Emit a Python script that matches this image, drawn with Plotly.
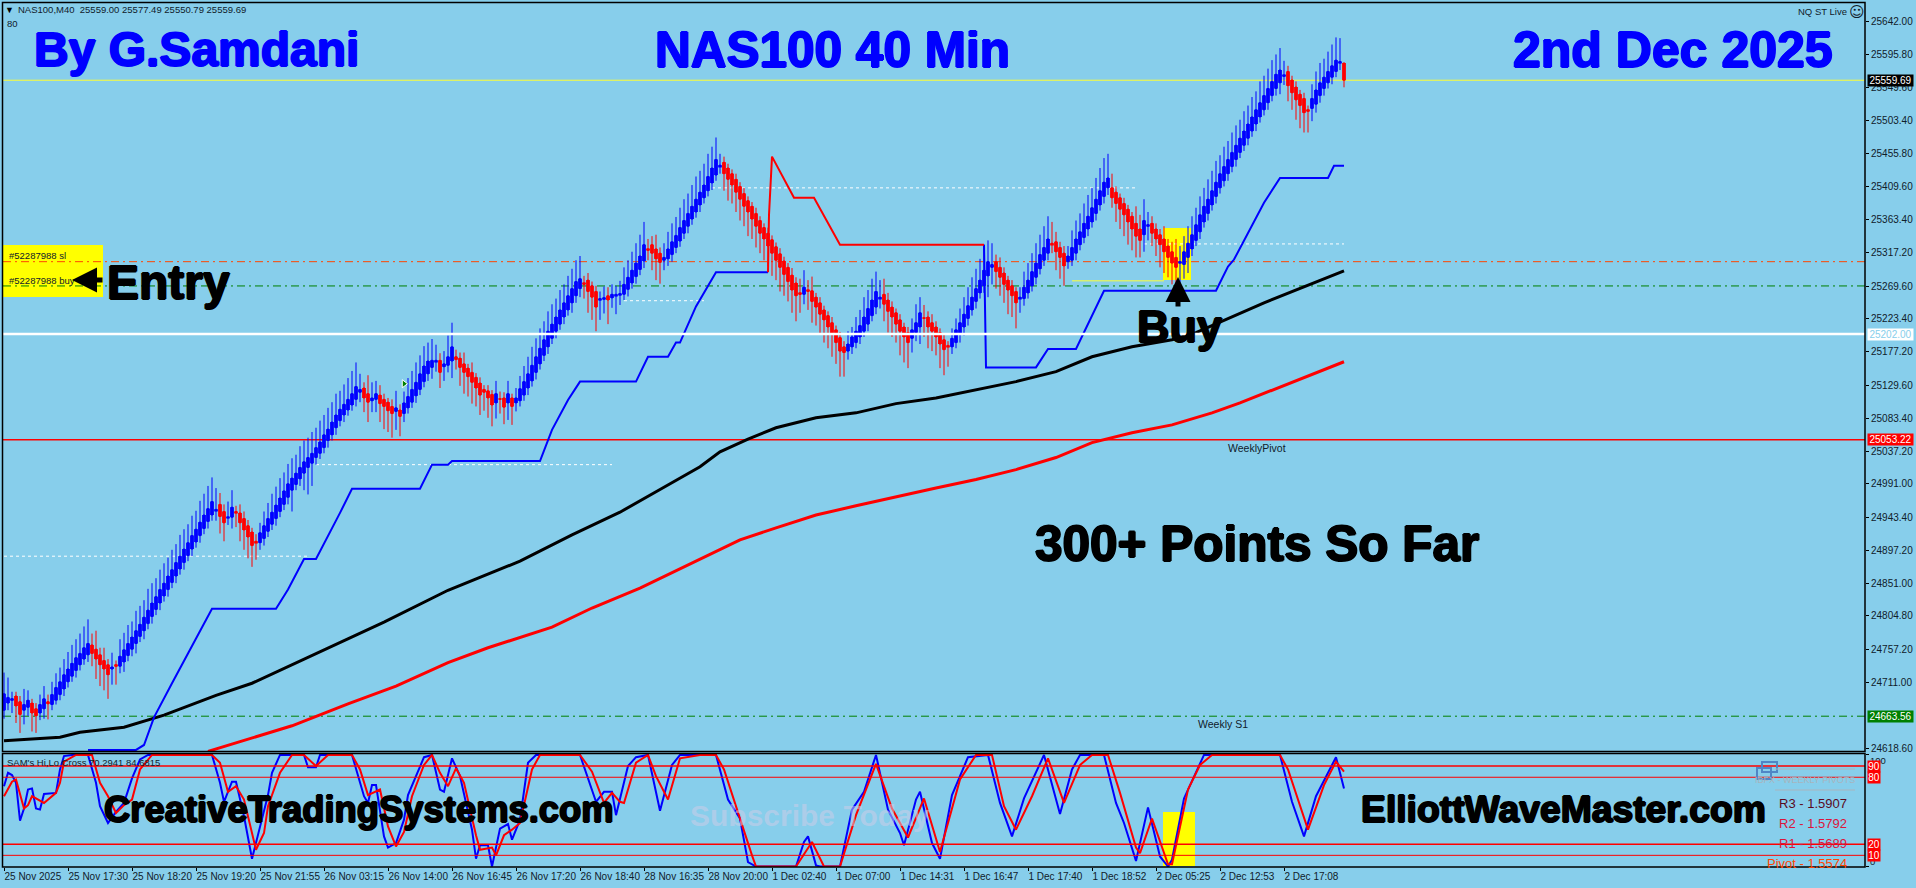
"""NAS100 M40 chart, Heikin Ashi candles with trailing stop, moving averages and an oscillator pane."""

import plotly.graph_objects as go

WIDTH = 1916
HEIGHT = 888
BG = "#87ceeb"
BIG_FONT = "Liberation Sans"
SMALL_FONT = "Liberation Sans"

opens = [
    24672, 24682, 24686, 24692, 24684, 24672, 24676, 24682, 24674, 24668,
    24674, 24684, 24680, 24686, 24694, 24702, 24712, 24720, 24728, 24736,
    24744, 24750, 24764, 24758, 24750, 24742, 24736, 24730, 24736, 24734,
    24740, 24749, 24758, 24766, 24776, 24784, 24794, 24804, 24814, 24823,
    24833, 24842, 24852, 24861, 24871, 24880, 24890, 24899, 24909, 24918,
    24928, 24938, 24947, 24953, 24962, 24952, 24943, 24944, 24952, 24950,
    24942, 24932, 24923, 24910, 24908, 24914, 24924, 24934, 24942, 24952,
    24962, 24972, 24982, 24990, 24998, 25006, 25014, 25020, 25028, 25034,
    25042, 25052, 25060, 25070, 25080, 25088, 25095, 25102, 25110, 25120,
    25126, 25118, 25108, 25110, 25116, 25110, 25106, 25100, 25093, 25095,
    25090, 25098, 25106, 25115, 25124, 25135, 25146, 25155, 25163, 25165,
    25156, 25158, 25164, 25170, 25168, 25160, 25154, 25148, 25141, 25133,
    25124, 25122, 25117, 25105, 25111, 25112, 25105, 25112, 25105, 25108,
    25116, 25126, 25136, 25148, 25160, 25172, 25184, 25196, 25206, 25216,
    25226, 25236, 25246, 25256, 25266, 25274, 25278, 25270, 25262, 25250,
    25251, 25256, 25253, 25256, 25257, 25258, 25265, 25274, 25283, 25293,
    25305, 25322, 25328, 25322, 25316, 25306, 25308, 25314, 25324, 25333,
    25344, 25354, 25364, 25374, 25384, 25394, 25404, 25415, 25426, 25438,
    25444, 25436, 25428, 25420, 25410, 25400, 25390, 25382, 25372, 25362,
    25352, 25344, 25335, 25325, 25315, 25305, 25296, 25285, 25274, 25260,
    25258, 25264, 25263, 25254, 25246, 25236, 25228, 25218, 25208, 25197,
    25184, 25178, 25184, 25190, 25198, 25206, 25216, 25228, 25240, 25252,
    25258, 25250, 25240, 25232, 25222, 25212, 25204, 25196, 25204, 25212,
    25225, 25226, 25218, 25212, 25204, 25194, 25186, 25184, 25190, 25202,
    25212, 25224, 25236, 25248, 25260, 25270, 25284, 25296, 25304, 25296,
    25288, 25278, 25270, 25262, 25252, 25252, 25260, 25270, 25282, 25294,
    25306, 25316, 25330, 25332, 25324, 25316, 25304, 25306, 25316, 25328,
    25338, 25350, 25360, 25372, 25384, 25396, 25408, 25408, 25402, 25394,
    25386, 25378, 25368, 25358, 25350, 25342, 25354, 25358, 25350, 25342,
    25336, 25326, 25318, 25310, 25302, 25300, 25310, 25322, 25334, 25346,
    25360, 25372, 25384, 25396, 25408, 25418, 25428, 25438, 25448, 25458,
    25468, 25478, 25488, 25498, 25508, 25518, 25528, 25538, 25548, 25556,
    25565, 25572, 25560, 25550, 25540, 25534, 25518, 25520, 25526, 25538,
    25548, 25556, 25564, 25572, 25584, 25584,
]
closes = [
    24695, 24690, 24688, 24678, 24666, 24680, 24686, 24668, 24664, 24680,
    24688, 24681, 24694, 24704, 24712, 24722, 24730, 24738, 24746, 24752,
    24760, 24766, 24752, 24744, 24736, 24730, 24722, 24733, 24734, 24748,
    24757, 24766, 24775, 24784, 24793, 24803, 24813, 24823, 24832, 24842,
    24851, 24861, 24870, 24880, 24889, 24899, 24908, 24918, 24927, 24937,
    24947, 24956, 24966, 24955, 24945, 24936, 24944, 24958, 24950, 24936,
    24926, 24916, 24904, 24908, 24922, 24932, 24942, 24951, 24961, 24971,
    24981, 24991, 24999, 25006, 25014, 25022, 25028, 25034, 25042, 25050,
    25060, 25068, 25078, 25088, 25096, 25103, 25110, 25118, 25128, 25124,
    25112, 25106, 25112, 25118, 25104, 25100, 25094, 25090, 25098, 25086,
    25105, 25114, 25124, 25134, 25146, 25157, 25164, 25165, 25165, 25148,
    25160, 25170, 25184, 25166, 25155, 25148, 25142, 25134, 25126, 25116,
    25120, 25112, 25102, 25118, 25110, 25099, 25118, 25100, 25112, 25125,
    25135, 25146, 25158, 25170, 25182, 25194, 25206, 25216, 25226, 25236,
    25246, 25256, 25266, 25276, 25280, 25272, 25262, 25254, 25240, 25252,
    25253, 25250, 25258, 25258, 25259, 25272, 25282, 25292, 25302, 25312,
    25328, 25320, 25316, 25308, 25303, 25310, 25322, 25332, 25341, 25352,
    25362, 25372, 25382, 25392, 25402, 25412, 25424, 25436, 25448, 25440,
    25428, 25420, 25412, 25402, 25392, 25382, 25374, 25364, 25354, 25344,
    25336, 25326, 25316, 25306, 25296, 25286, 25276, 25264, 25256, 25258,
    25268, 25262, 25248, 25240, 25230, 25222, 25212, 25202, 25190, 25178,
    25176, 25188, 25198, 25206, 25214, 25226, 25238, 25250, 25262, 25254,
    25244, 25234, 25226, 25216, 25206, 25198, 25190, 25208, 25218, 25232,
    25224, 25212, 25206, 25198, 25188, 25180, 25184, 25196, 25208, 25218,
    25230, 25242, 25254, 25266, 25278, 25292, 25304, 25300, 25290, 25282,
    25272, 25264, 25256, 25246, 25254, 25268, 25278, 25290, 25302, 25314,
    25324, 25336, 25328, 25318, 25310, 25298, 25312, 25324, 25336, 25346,
    25358, 25368, 25380, 25392, 25404, 25416, 25422, 25394, 25386, 25378,
    25370, 25360, 25350, 25340, 25334, 25362, 25356, 25344, 25336, 25328,
    25318, 25310, 25302, 25296, 25304, 25318, 25330, 25342, 25356, 25370,
    25382, 25392, 25404, 25416, 25428, 25438, 25448, 25458, 25468, 25478,
    25488, 25498, 25508, 25518, 25528, 25538, 25548, 25558, 25568, 25574,
    25567, 25552, 25542, 25532, 25524, 25514, 25516, 25534, 25546, 25556,
    25564, 25572, 25580, 25588, 25586, 25559.69,
]
# wick lengths in points, above and below the candle body
upper_wicks = [
    30, 28, 10, 6, 8, 22, 14, 6, 8, 14,
    18, 10, 18, 20, 20, 22, 24, 26, 26, 28,
    30, 34, 16, 26, 10, 18, 8, 20, 6, 24,
    24, 26, 22, 28, 26, 24, 30, 28, 26, 28,
    28, 26, 28, 26, 30, 28, 26, 28, 26, 30,
    30, 32, 34, 30, 16, 10, 22, 24, 8, 12,
    10, 8, 6, 10, 14, 20, 22, 26, 26, 28,
    26, 28, 28, 26, 30, 30, 28, 30, 28, 30,
    28, 30, 28, 30, 26, 28, 30, 32, 34, 22,
    8, 26, 22, 18, 14, 8, 6, 10, 24, 8,
    16, 26, 26, 28, 26, 28, 26, 30, 22, 10,
    18, 30, 34, 10, 8, 16, 6, 14, 6, 8,
    6, 8, 6, 18, 10, 8, 18, 6, 14, 18,
    22, 24, 26, 26, 28, 26, 28, 28, 26, 28,
    26, 28, 28, 30, 32, 10, 10, 6, 8, 10,
    16, 12, 14, 12, 18, 24, 24, 26, 28, 30,
    32, 14, 12, 20, 8, 20, 24, 26, 26, 28,
    30, 28, 30, 32, 30, 30, 32, 30, 31, 16,
    8, 6, 6, 8, 6, 8, 6, 6, 8, 6,
    6, 8, 6, 6, 8, 6, 6, 10, 8, 20,
    24, 14, 20, 6, 8, 6, 6, 8, 6, 8,
    8, 18, 14, 20, 22, 28, 26, 30, 28, 24,
    22, 10, 8, 6, 8, 6, 8, 16, 26, 22,
    18, 8, 12, 8, 6, 8, 6, 14, 16, 20,
    24, 26, 28, 28, 30, 32, 30, 30, 10, 14,
    8, 6, 8, 6, 14, 22, 24, 26, 28, 28,
    30, 32, 30, 14, 8, 10, 14, 24, 26, 26,
    28, 30, 28, 30, 32, 34, 34, 20, 8, 6,
    8, 6, 6, 24, 20, 30, 18, 10, 8, 8,
    18, 10, 14, 26, 22, 22, 24, 26, 24, 26,
    26, 28, 28, 30, 26, 28, 26, 28, 28, 26,
    28, 26, 28, 26, 30, 28, 28, 30, 28, 31,
    20, 8, 6, 8, 6, 8, 6, 20, 26, 28,
    26, 28, 30, 32, 33, 0,
]
lower_wicks = [
    12, 10, 18, 24, 26, 20, 12, 26, 24, 10,
    14, 22, 8, 6, 8, 10, 8, 8, 10, 8,
    8, 10, 18, 28, 30, 30, 34, 22, 26, 10,
    14, 8, 10, 14, 8, 12, 8, 10, 8, 10,
    8, 10, 8, 10, 8, 10, 8, 10, 8, 10,
    8, 10, 8, 14, 24, 26, 10, 16, 20, 26,
    28, 30, 30, 24, 10, 10, 8, 8, 10, 8,
    8, 10, 30, 8, 10, 24, 38, 32, 10, 8,
    8, 10, 8, 10, 8, 10, 8, 8, 10, 14,
    20, 28, 16, 18, 26, 32, 30, 34, 26, 28,
    12, 8, 8, 10, 8, 8, 10, 16, 14, 22,
    20, 10, 24, 14, 26, 30, 28, 30, 26, 28,
    26, 28, 30, 22, 20, 24, 24, 26, 12, 8,
    8, 10, 8, 10, 8, 8, 10, 8, 10, 8,
    10, 8, 14, 10, 12, 20, 30, 32, 34, 28,
    20, 34, 14, 26, 14, 8, 10, 8, 10, 8,
    10, 14, 24, 30, 30, 14, 10, 10, 8, 8,
    8, 10, 8, 8, 10, 8, 8, 10, 8, 10,
    24, 30, 26, 28, 30, 28, 34, 28, 30, 28,
    30, 28, 32, 28, 34, 30, 28, 32, 36, 26,
    14, 26, 30, 26, 28, 32, 30, 32, 30, 36,
    34, 12, 10, 8, 10, 8, 10, 8, 10, 14,
    24, 30, 28, 26, 34, 36, 36, 20, 12, 24,
    26, 30, 28, 26, 34, 36, 28, 10, 8, 12,
    12, 10, 8, 10, 8, 10, 30, 24, 24, 26,
    26, 34, 30, 36, 20, 10, 8, 8, 10, 8,
    8, 10, 12, 26, 30, 28, 10, 8, 10, 8,
    8, 10, 8, 10, 8, 10, 10, 14, 26, 28,
    30, 32, 30, 30, 24, 24, 20, 18, 24, 32,
    30, 28, 30, 26, 28, 20, 22, 10, 8, 10,
    8, 10, 8, 10, 8, 8, 10, 8, 10, 8,
    8, 10, 8, 10, 8, 8, 10, 8, 10, 16,
    12, 22, 24, 28, 32, 28, 30, 18, 12, 10,
    10, 8, 10, 8, 10, 10,
]

black_ma_bars = [0, 14, 19, 30, 40, 53, 62, 72, 84, 95, 111, 129, 142, 154, 164, 174, 179, 186,
                 193, 203, 213, 223, 233, 243, 253, 263, 272, 282, 292, 298, 315, 335]
black_ma = [24629, 24634, 24641, 24648, 24665, 24693, 24710, 24736, 24767, 24796, 24841, 24882,
            24919, 24951, 24983, 25015, 25036, 25054, 25070, 25084, 25091, 25104, 25112, 25123,
            25135, 25149, 25170, 25184, 25194, 25204, 25246, 25291]
red_ma_bars = [51, 62, 72, 86, 98, 111, 121, 137, 147, 159, 184, 193, 203, 213, 223, 233, 243,
               253, 263, 272, 282, 292, 302, 309, 335]
red_ma = [24614, 24633, 24650, 24681, 24706, 24739, 24760, 24789, 24816, 24844, 24912, 24929,
          24947, 24960, 24973, 24985, 24997, 25011, 25028, 25049, 25063, 25074, 25091, 25105, 25163]

stop_up_bars = [21, 33, 35, 37.5, 42, 52, 68, 71, 75, 78, 84, 87, 104, 107, 111, 112, 134, 137,
                141, 144, 158, 159, 161, 166, 168, 169, 173, 178, 191]
stop_up = [24616, 24616, 24623, 24662, 24710, 24815, 24815, 24842, 24885, 24885, 24950, 24984,
           24984, 25018, 25018, 25023, 25023, 25067, 25109, 25135, 25135, 25147, 25170, 25170,
           25190, 25190, 25241, 25289, 25289]
stop_down_bars = [191, 191.25, 192, 197.5, 202.5, 208, 209, 245]
stop_down = [25289, 25370, 25452, 25394, 25394, 25339, 25328, 25328]
stop_up2_bars = [245, 245.25, 245.5, 258, 261, 268, 272, 275, 303, 306, 307.5, 315, 319, 331, 332.5, 335]
stop_up2 = [25328, 25241, 25155, 25155, 25181, 25181, 25229, 25263, 25263, 25297, 25307, 25387,
            25422, 25422, 25439, 25439]

osc_fast_bars = [0, 1, 2, 3, 4, 5, 6, 7, 8, 9, 10, 13, 14, 15, 17, 21, 23, 24, 26, 28, 30, 32, 34, 36,
                 52, 54, 55, 57, 58, 60, 62, 63, 66, 67, 69, 75, 76, 78, 79, 87, 90, 91, 92, 93, 95,
                 96, 98, 100, 101, 105, 107, 109, 110, 112, 114, 117, 118, 119, 121, 122, 123, 124,
                 126, 127, 129, 131, 133, 144, 148, 150, 152, 153, 156, 158, 161, 164, 167, 169,
                 174, 178, 181, 184, 186, 188, 198, 200, 201, 203, 204, 209, 212, 215, 218, 221,
                 224, 225, 228, 229, 232, 234, 237, 241, 246, 249, 252, 255, 260, 264, 267, 269,
                 275, 278, 280, 283, 286, 289, 291, 292, 295, 300, 302, 319, 322, 325, 328, 333, 335]
osc_fast = [72, 84, 82, 75, 41, 52, 69, 70, 52, 51, 65, 66, 87, 99, 100, 100, 75, 54, 39, 49, 57, 79,
            96, 100, 100, 75, 58, 76, 76, 45, 7, 21, 64, 84, 100, 100, 89, 89, 100, 100, 63, 57, 73,
            73, 27, 17, 21, 42, 64, 98, 100, 69, 67, 97, 81, 33, 7, 19, 19, 0, 18, 34, 38, 24, 42,
            93, 100, 100, 58, 67, 67, 46, 90, 98, 100, 50, 91, 100, 100, 100, 60, 43, 4, 0, 0, 22,
            27, 1, 0, 0, 51, 67, 100, 51, 30, 19, 60, 67, 21, 7, 64, 98, 100, 57, 27, 61, 100, 47,
            87, 100, 100, 57, 39, 5, 53, 9, 0, 6, 61, 100, 100, 100, 58, 27, 63, 98, 70]
osc_slow_bars = [0, 2, 3, 4, 5, 6, 7, 10, 13, 14, 15, 18, 22, 24, 26, 28, 30, 32, 34, 37, 52, 54, 56,
                 58, 60, 63, 65, 66, 69, 72, 75, 78, 81, 87, 89, 91, 94, 96, 98, 100, 102, 105, 107,
                 109, 111, 113, 115, 118, 119, 122, 123, 125, 127, 129, 132, 134, 144, 147, 150, 152,
                 154, 155, 158, 161, 163, 166, 169, 174, 178, 180, 184, 187, 188, 198, 202, 205, 209,
                 213, 218, 222, 226, 230, 234, 239, 243, 247, 250, 253, 257, 261, 265, 269, 272, 276,
                 279, 283, 284, 287, 291, 292, 296, 299, 302, 319, 321, 326, 330, 333, 335]
osc_slow = [63, 76, 78, 66, 52, 55, 63, 57, 66, 75, 94, 100, 100, 75, 63, 48, 55, 60, 87, 100, 100, 93,
            67, 72, 60, 15, 30, 54, 84, 100, 100, 90, 100, 100, 87, 64, 69, 36, 18, 31, 63, 91, 100,
            84, 72, 88, 75, 28, 15, 17, 10, 28, 33, 39, 87, 100, 100, 85, 57, 66, 58, 57, 93, 100,
            81, 60, 97, 100, 100, 87, 42, 10, 0, 0, 22, 0, 0, 46, 92, 52, 26, 61, 13, 78, 100, 100,
            54, 33, 63, 97, 57, 91, 100, 100, 66, 17, 12, 43, 2, 2, 69, 91, 100, 100, 87, 33, 73, 94, 85]

price_ticks = [25642.0, 25595.8, 25549.6, 25503.4, 25455.8, 25409.6, 25363.4, 25317.2, 25269.6,
               25223.4, 25177.2, 25129.6, 25083.4, 25037.2, 24991.0, 24943.4, 24897.2, 24851.0,
               24804.8, 24757.2, 24711.0, 24618.6]
time_tick_bars = [0, 16, 32, 48, 64, 80, 96, 112, 128, 144, 160, 176, 192, 208, 224, 240, 256, 272,
                  288, 304, 320]
time_tick_labels = ["25 Nov 2025", "25 Nov 17:30", "25 Nov 18:20", "25 Nov 19:20", "25 Nov 21:55",
                    "26 Nov 03:15", "26 Nov 14:00", "26 Nov 16:45", "26 Nov 17:20", "26 Nov 18:40",
                    "28 Nov 16:35", "28 Nov 20:00", "1 Dec 02:40", "1 Dec 07:00", "1 Dec 14:31",
                    "1 Dec 16:47", "1 Dec 17:40", "1 Dec 18:52", "2 Dec 05:25", "2 Dec 12:53",
                    "2 Dec 17:08"]
osc_levels = [90, 80, 20, 10]

LAST_PRICE = 25559.69
SL_LEVEL = 25304
ENTRY_LEVEL = 25269.8
ALERT_LEVEL = 25202.0
WEEKLY_PIVOT = 25053.22
WEEKLY_S1 = 24663.56

# (price, first bar, last bar) of the white dotted lines
white_dotted = [(25408, 177, 283), (25329, 285, 335), (25249, 155, 175), (25018, 78, 152), (24889, 0, 76)]


def px_x(x):
    return x / WIDTH


def px_y(y):
    return 1 - y / HEIGHT


def text(s, x, y, size=9.5, color="#10202a", family=SMALL_FONT, xanchor="left", bold=False, stroke=None, **kw):
    font = dict(size=size, color=color, family=family)
    if bold:
        font["weight"] = "bold"
    if stroke:
        font["shadow"] = f"1px 0 0 {stroke}, -1px 0 0 {stroke}, 0 1px 0 {stroke}, 0 -1px 0 {stroke}"
    return dict(text=s, x=px_x(x), y=px_y(y), xref="paper", yref="paper", xanchor=xanchor, yanchor="middle",
                showarrow=False, font=font, borderpad=0, borderwidth=0, **kw)


def price_box(value, bg, fg, yref="y", label=None):
    return dict(text=label or f"{value:.2f}", x=px_x(1867), y=value, xref="paper", yref=yref, xanchor="left",
                yanchor="middle", showarrow=False, bgcolor=bg, width=45, height=11, align="center", borderpad=0,
                font=dict(size=10, color=fg, family=SMALL_FONT))


def paper_rect(x0, y0, x1, y1, **kw):
    return dict(type="rect", xref="paper", yref="paper", x0=px_x(x0), x1=px_x(x1), y0=px_y(y0), y1=px_y(y1), **kw)


def level(value, color, width=1, dash="solid", yref="y", layer="below"):
    return dict(type="line", xref="paper", yref=yref, x0=px_x(3), x1=px_x(1865), y0=value, y1=value,
                line=dict(color=color, width=width, dash=dash), layer=layer)


bars = list(range(len(closes)))
highs = [max(o, c) + w for o, c, w in zip(opens, closes, upper_wicks)]
lows = [min(o, c) - w for o, c, w in zip(opens, closes, lower_wicks)]
body_base = [min(o, c) for o, c in zip(opens, closes)]
body_size = [abs(c - o) for o, c in zip(opens, closes)]
body_color = ["#0000ff" if c >= o else "#ff0000" for o, c in zip(opens, closes)]

fig = go.Figure()

fig.add_trace(go.Scatter(x=black_ma_bars, y=black_ma, mode="lines", line=dict(color="black", width=3)))
fig.add_trace(go.Scatter(x=red_ma_bars, y=red_ma, mode="lines", line=dict(color="#ff0000", width=3)))
fig.add_trace(go.Scatter(x=stop_up_bars, y=stop_up, mode="lines", line=dict(color="#0000ff", width=2)))
fig.add_trace(go.Scatter(x=stop_up2_bars, y=stop_up2, mode="lines", line=dict(color="#0000ff", width=2)))
fig.add_trace(go.Scatter(x=stop_down_bars, y=stop_down, mode="lines", line=dict(color="#ff0000", width=2)))

# candlestick trace gives the wicks, the bars give a solid body as wide as the MT4 one
fig.add_trace(
    go.Candlestick(
        x=bars,
        open=opens,
        high=highs,
        low=lows,
        close=closes,
        whiskerwidth=0,
        increasing=dict(line=dict(color="#0000ff", width=1), fillcolor="#0000ff"),
        decreasing=dict(line=dict(color="#ff0000", width=1), fillcolor="#ff0000"),
    )
)
fig.add_trace(go.Bar(x=bars, y=body_size, base=body_base, width=0.9, marker=dict(color=body_color, line_width=0)))

fig.add_trace(go.Scatter(x=[100], y=[25132], mode="markers",
                         marker=dict(symbol="triangle-right", size=7, color="green", line=dict(color="white", width=1))))

fig.add_trace(go.Scatter(x=osc_fast_bars, y=osc_fast, yaxis="y2", mode="lines", line=dict(color="#0000ff", width=2)))
fig.add_trace(go.Scatter(x=osc_slow_bars, y=osc_slow, yaxis="y2", mode="lines", line=dict(color="#ff0000", width=2)))

shapes = [
    paper_rect(3, 245, 103, 297, fillcolor="#ffff00", line_width=0, layer="below"),
    paper_rect(1163, 228, 1191, 280, fillcolor="#ffff00", line_width=0, layer="below"),
    paper_rect(1163, 812, 1195, 866, fillcolor="#ffff00", line_width=0, layer="below"),
    level(LAST_PRICE, "#ffff33"),
    level(SL_LEVEL, "#ff4500", dash="8px,4px,2px,4px"),
    level(ENTRY_LEVEL, "#008000", dash="8px,4px,2px,4px"),
    level(ALERT_LEVEL, "#ffffff", width=2.5, layer="above"),
    level(WEEKLY_PIVOT, "#ff0000", width=1.5),
    level(WEEKLY_S1, "#008000", dash="8px,4px,2px,4px"),
    dict(type="line", xref="x", yref="y", x0=267, x1=290, y0=25277, y1=25277,
         line=dict(color="#ffff33", width=1), layer="below"),
]
for price, first, last in white_dotted:
    shapes.append(dict(type="line", xref="x", yref="y", x0=first, x1=last, y0=price, y1=price,
                       line=dict(color="#ffffff", width=1, dash="3px,3px"), layer="below"))
for value in osc_levels:
    shapes.append(level(value, "#ff0000", width=1.5 if value in (90, 20) else 1, yref="y2", layer="above"))
shapes += [
    paper_rect(2.5, 2.5, 1865, 751.5, line=dict(color="black", width=1.5)),
    paper_rect(2.5, 753.5, 1865, 867, line=dict(color="black", width=1.5)),
    paper_rect(1762, 762, 1777, 772, line=dict(color="#4f86c6", width=2)),
    paper_rect(1757, 768, 1771, 779, line=dict(color="#4f86c6", width=2)),
    dict(type="line", xref="paper", yref="paper", x0=px_x(1775), x1=px_x(1855), y0=px_y(769), y1=px_y(769),
         line=dict(color="#a9b4bd", width=1)),
    dict(type="line", xref="paper", yref="paper", x0=px_x(1775), x1=px_x(1855), y0=px_y(790), y1=px_y(790),
         line=dict(color="#a9b4bd", width=1)),
]

annotations = [
    text("▼", 5, 10, size=9, color="black"),
    text("NAS100,M40  25559.00 25577.49 25550.79 25559.69", 18, 10),
    text("80", 7, 23),
    text("NQ ST Live", 1847, 12, xanchor="right"),
    text("☺", 1849, 12, size=15, family="DejaVu Sans"),
    text("By G.Samdani", 34, 50, size=48, color="#0000ff", family=BIG_FONT, bold=True, stroke="#0000ff"),
    text("NAS100 40 Min", 655, 50, size=49.5, color="#0000ff", family=BIG_FONT, bold=True, stroke="#0000ff"),
    text("2nd Dec 2025", 1513, 50, size=50, color="#0000ff", family=BIG_FONT, bold=True, stroke="#0000ff"),
    text("#52287988 sl", 9, 256),
    text("#52287988 buy", 9, 280),
    text("Entry", 107, 282, size=48, color="black", family=BIG_FONT, bold=True, stroke="black"),
    text("Buy", 1137, 327, size=45, color="black", family=BIG_FONT, bold=True, stroke="black"),
    text("300+ Points So Far", 1035, 543, size=49.5, color="black", family=BIG_FONT, bold=True, stroke="black"),
    text("WeeklyPivot", 1228, 448, size=10.5),
    text("Weekly S1", 1198, 724, size=10.5),
    text("SAM's Hi,Lo Cross 70.2941 84.6815", 7, 762),
    text("Subscribe Today", 690, 815, size=30, color="rgba(205,205,232,0.55)", family=BIG_FONT, bold=True),
    text("CreativeTradingSystems.com", 104, 809, size=36.4, color="black", family=BIG_FONT, bold=True, stroke="black"),
    text("ElliottWaveMaster.com", 1361, 809, size=37.3, color="black", family=BIG_FONT, bold=True, stroke="black"),
    text("IBFX - WEEKLY PIVOTS", 1855, 780, size=9, color="#a9b4bd", xanchor="right"),
    text("R3 - 1.5907", 1847, 803, size=13, color="#5a0a1f", xanchor="right"),
    text("R2 - 1.5792", 1847, 823, size=13, color="#dc143c", xanchor="right"),
    text("R1 - 1.5689", 1847, 843, size=13, color="#dc143c", xanchor="right"),
    text("Pivot - 1.5574", 1847, 863, size=13, color="#ff4500", xanchor="right"),
    text("100", 1870, 760),
    text("0", 1870, 861),
    # arrows next to Entry and above Buy
    dict(x=px_x(72), y=px_y(280), ax=32, ay=0, xref="paper", yref="paper",
         text="", showarrow=True, arrowhead=2, arrowsize=1, arrowwidth=5, arrowcolor="black"),
    dict(x=px_x(1178), y=px_y(277), ax=0, ay=31, xref="paper", yref="paper",
         text="", showarrow=True, arrowhead=2, arrowsize=1, arrowwidth=5, arrowcolor="black"),
    price_box(LAST_PRICE, "black", "white"),
    price_box(ALERT_LEVEL, "white", BG),
    price_box(WEEKLY_PIVOT, "#ff0000", "white"),
    price_box(WEEKLY_S1, "#008000", "white"),
]
for value in osc_levels:
    annotations.append(dict(text=str(value), x=px_x(1867), y=value, xref="paper", yref="y2", xanchor="left",
                            yanchor="middle", showarrow=False, bgcolor="#ff0000", width=12, height=11, borderpad=0,
                            font=dict(size=10, color="white", family=SMALL_FONT)))

tick_font = dict(size=10, color="#10202a", family=SMALL_FONT)
fig.update_layout(
    width=WIDTH,
    height=HEIGHT,
    autosize=False,
    margin=dict(l=0, r=0, t=0, b=0, pad=0, autoexpand=False),
    paper_bgcolor=BG,
    plot_bgcolor=BG,
    showlegend=False,
    hovermode=False,
    barmode="overlay",
    shapes=shapes,
    annotations=annotations,
    xaxis=dict(
        domain=[px_x(3), px_x(1865)],
        range=[-0.25, 465.25],
        anchor="y2",
        rangeslider=dict(visible=False),
        tickvals=time_tick_bars,
        ticktext=time_tick_labels,
        tickangle=0,
        ticks="outside",
        ticklen=3,
        tickcolor="black",
        ticklabelposition="outside right",
        tickfont=tick_font,
        showgrid=False,
        zeroline=False,
    ),
    yaxis=dict(
        domain=[px_y(751.5), px_y(2.5)],
        range=[24613.8, 25669.2],
        side="right",
        anchor="x",
        tickvals=price_ticks,
        tickformat=".2f",
        ticks="outside",
        ticklen=3,
        tickcolor="black",
        tickfont=tick_font,
        showgrid=False,
        zeroline=False,
    ),
    yaxis2=dict(
        domain=[px_y(867), px_y(753.5)],
        range=[-0.45, 101.3],
        side="right",
        anchor="x",
        tickvals=[0, 100],
        ticktext=["", ""],
        ticks="outside",
        ticklen=3,
        tickcolor="black",
        showgrid=False,
        zeroline=False,
    ),
)

fig.write_html(
    "out.html",
    config={"displayModeBar": False},
    post_script="document.body.style.margin='0';document.body.style.overflow='hidden';",
)
